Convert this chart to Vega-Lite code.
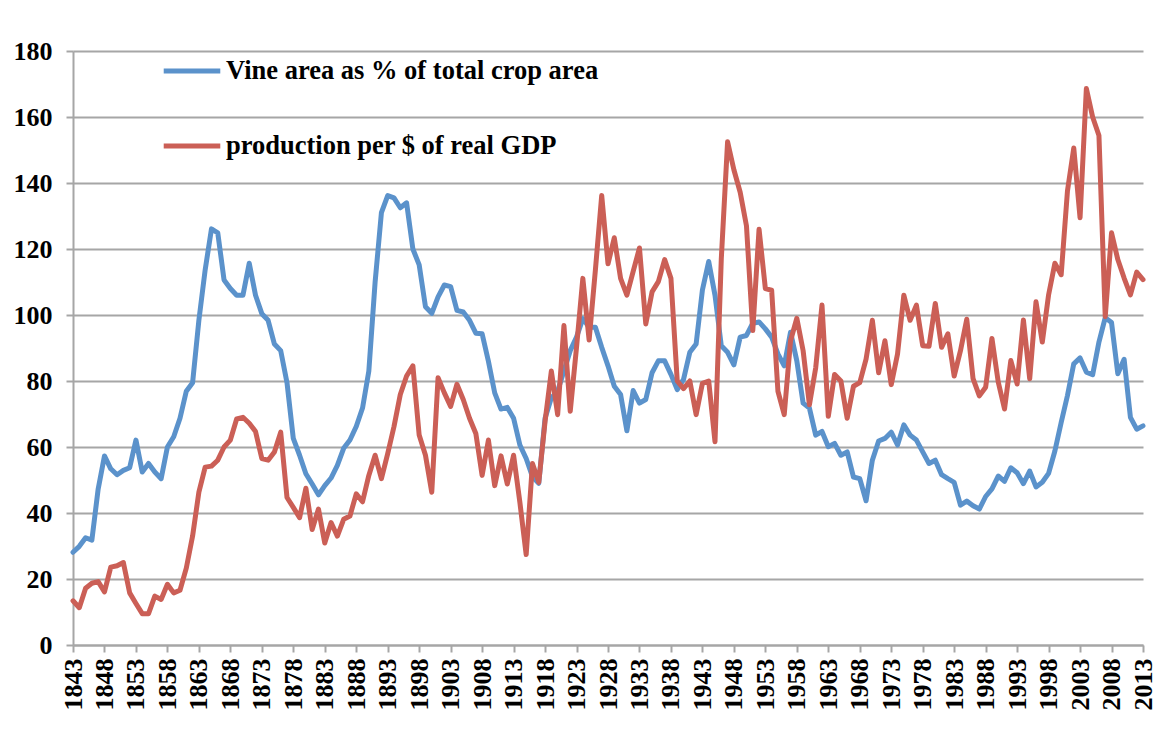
{
  "$schema": "https://vega.github.io/schema/vega-lite/v6.json",
  "width": 1070,
  "height": 594,
  "autosize": {"type": "none"},
  "padding": {"left": 73, "top": 51, "right": 13, "bottom": 95},
  "background": "white",
  "config": {
    "view": {"stroke": null},
    "font": "Liberation Serif"
  },
  "data": {
    "values": [
      {"year":1843,"vine":28.1,"prod":13.4},{"year":1844,"vine":29.9,"prod":11.3},{"year":1845,"vine":32.5,"prod":17.2},{"year":1846,"vine":31.8,"prod":18.7},{"year":1847,"vine":47.3,"prod":19.2},
      {"year":1848,"vine":57.3,"prod":16.1},{"year":1849,"vine":53.4,"prod":23.6},{"year":1850,"vine":51.6,"prod":24},{"year":1851,"vine":52.9,"prod":25},{"year":1852,"vine":53.7,"prod":15.8},
      {"year":1853,"vine":62.1,"prod":12.6},{"year":1854,"vine":52.4,"prod":9.5},{"year":1855,"vine":55,"prod":9.5},{"year":1856,"vine":52.4,"prod":14.8},{"year":1857,"vine":50.4,"prod":13.8},
      {"year":1858,"vine":60,"prod":18.4},{"year":1859,"vine":63.1,"prod":15.8},{"year":1860,"vine":68.7,"prod":16.6},{"year":1861,"vine":76.9,"prod":23.3},{"year":1862,"vine":79.5,"prod":33},
      {"year":1863,"vine":98.4,"prod":46.3},{"year":1864,"vine":113.7,"prod":53.9},{"year":1865,"vine":126.1,"prod":54.2},{"year":1866,"vine":124.9,"prod":56},{"year":1867,"vine":110.6,"prod":60},
      {"year":1868,"vine":108,"prod":62.1},{"year":1869,"vine":106,"prod":68.5},{"year":1870,"vine":106,"prod":69},{"year":1871,"vine":115.7,"prod":67.2},{"year":1872,"vine":106,"prod":64.7},
      {"year":1873,"vine":100.4,"prod":56.5},{"year":1874,"vine":98.4,"prod":56},{"year":1875,"vine":91.2,"prod":58.5},{"year":1876,"vine":89.2,"prod":64.5},{"year":1877,"vine":79.5,"prod":44.7},
      {"year":1878,"vine":62.6,"prod":41.7},{"year":1879,"vine":57.5,"prod":38.6},{"year":1880,"vine":51.9,"prod":47.5},{"year":1881,"vine":48.8,"prod":35},{"year":1882,"vine":45.5,"prod":41.2},
      {"year":1883,"vine":48.3,"prod":30.9},{"year":1884,"vine":50.6,"prod":37.1},{"year":1885,"vine":54.4,"prod":33},{"year":1886,"vine":59.6,"prod":38.1},{"year":1887,"vine":62.1,"prod":39.1},
      {"year":1888,"vine":66.2,"prod":45.8},{"year":1889,"vine":71.8,"prod":43.4},{"year":1890,"vine":83,"prod":51.4},{"year":1891,"vine":110,"prod":57.5},{"year":1892,"vine":131,"prod":50.4},
      {"year":1893,"vine":136.2,"prod":58},{"year":1894,"vine":135.5,"prod":66.2},{"year":1895,"vine":132.5,"prod":75.9},{"year":1896,"vine":134,"prod":81.5},{"year":1897,"vine":120,"prod":84.6},
      {"year":1898,"vine":115.2,"prod":63.6},{"year":1899,"vine":102.5,"prod":57.5},{"year":1900,"vine":100.5,"prod":46.3},{"year":1901,"vine":105.5,"prod":81},{"year":1902,"vine":109.1,"prod":76.4},
      {"year":1903,"vine":108.6,"prod":72.3},{"year":1904,"vine":101.4,"prod":79},{"year":1905,"vine":100.9,"prod":74.4},{"year":1906,"vine":98.4,"prod":68.7},{"year":1907,"vine":94.5,"prod":64.1},
      {"year":1908,"vine":94.3,"prod":51.4},{"year":1909,"vine":86,"prod":62.1},{"year":1910,"vine":76.4,"prod":48.3},{"year":1911,"vine":71.5,"prod":57.3},{"year":1912,"vine":72,"prod":48.8},
      {"year":1913,"vine":68.7,"prod":57.5},{"year":1914,"vine":60.6,"prod":43.2},{"year":1915,"vine":56.5,"prod":27.4},{"year":1916,"vine":51,"prod":55},{"year":1917,"vine":49,"prod":49.3},
      {"year":1918,"vine":68.7,"prod":67.7},{"year":1919,"vine":74.9,"prod":83},{"year":1920,"vine":77,"prod":69.8},{"year":1921,"vine":83,"prod":96.8},{"year":1922,"vine":89.2,"prod":70.8},
      {"year":1923,"vine":93.3,"prod":90.2},{"year":1924,"vine":98.9,"prod":111.1},{"year":1925,"vine":96.3,"prod":92.4},{"year":1926,"vine":96.3,"prod":113.7},{"year":1927,"vine":90.2,"prod":136.2},
      {"year":1928,"vine":84.6,"prod":115.5},{"year":1929,"vine":78.4,"prod":123.4},{"year":1930,"vine":75.9,"prod":111.1},{"year":1931,"vine":64.9,"prod":106},{"year":1932,"vine":77.1,"prod":113.2},
      {"year":1933,"vine":73.3,"prod":120.3},{"year":1934,"vine":74.4,"prod":97.3},{"year":1935,"vine":82.5,"prod":107},{"year":1936,"vine":86.1,"prod":110.1},{"year":1937,"vine":86.1,"prod":116.8},
      {"year":1938,"vine":82,"prod":111.1},{"year":1939,"vine":77.4,"prod":80},{"year":1940,"vine":80.5,"prod":77.7},{"year":1941,"vine":88.7,"prod":80},{"year":1942,"vine":91.2,"prod":69.8},
      {"year":1943,"vine":107.6,"prod":79.3},{"year":1944,"vine":116.2,"prod":80},{"year":1945,"vine":106,"prod":61.6},{"year":1946,"vine":90.7,"prod":117},{"year":1947,"vine":88.7,"prod":152.5},
      {"year":1948,"vine":84.9,"prod":144},{"year":1949,"vine":93.3,"prod":137.2},{"year":1950,"vine":93.8,"prod":127},{"year":1951,"vine":97.5,"prod":95.3},{"year":1952,"vine":97.9,"prod":126},
      {"year":1953,"vine":95.8,"prod":108},{"year":1954,"vine":93.3,"prod":107.5},{"year":1955,"vine":88.2,"prod":76.9},{"year":1956,"vine":84.6,"prod":69.8},{"year":1957,"vine":94.8,"prod":92.2},
      {"year":1958,"vine":86.1,"prod":99},{"year":1959,"vine":73.3,"prod":89.2},{"year":1960,"vine":71.8,"prod":72.8},{"year":1961,"vine":63.6,"prod":84},{"year":1962,"vine":64.7,"prod":103},
      {"year":1963,"vine":60.1,"prod":69.3},{"year":1964,"vine":61.1,"prod":82},{"year":1965,"vine":57.5,"prod":80},{"year":1966,"vine":58.5,"prod":68.7},{"year":1967,"vine":50.9,"prod":78.4},
      {"year":1968,"vine":50.4,"prod":79.5},{"year":1969,"vine":43.7,"prod":86.6},{"year":1970,"vine":56,"prod":98.4},{"year":1971,"vine":61.8,"prod":82.5},{"year":1972,"vine":62.6,"prod":92.2},
      {"year":1973,"vine":64.5,"prod":78.9},{"year":1974,"vine":60.6,"prod":88.2},{"year":1975,"vine":66.7,"prod":106},{"year":1976,"vine":63.6,"prod":98.4},{"year":1977,"vine":62.1,"prod":103},
      {"year":1978,"vine":58.5,"prod":90.7},{"year":1979,"vine":55,"prod":90.5},{"year":1980,"vine":56,"prod":103.5},{"year":1981,"vine":51.6,"prod":90.2},{"year":1982,"vine":50.4,"prod":94.3},
      {"year":1983,"vine":49.3,"prod":81.5},{"year":1984,"vine":42.4,"prod":89.2},{"year":1985,"vine":43.6,"prod":98.7},{"year":1986,"vine":42.2,"prod":80.7},{"year":1987,"vine":41.2,"prod":75.5},
      {"year":1988,"vine":45,"prod":78.1},{"year":1989,"vine":47.3,"prod":92.9},{"year":1990,"vine":51.2,"prod":79.7},{"year":1991,"vine":49.6,"prod":71.5},{"year":1992,"vine":53.7,"prod":86.2},
      {"year":1993,"vine":52.2,"prod":79.1},{"year":1994,"vine":48.9,"prod":98.5},{"year":1995,"vine":52.7,"prod":80.7},{"year":1996,"vine":47.9,"prod":104},{"year":1997,"vine":49.3,"prod":91.8},
      {"year":1998,"vine":52,"prod":106.1},{"year":1999,"vine":58.8,"prod":115.7},{"year":2000,"vine":67.4,"prod":112.2},{"year":2001,"vine":75.6,"prod":137.6},{"year":2002,"vine":85.2,"prod":150.6},
      {"year":2003,"vine":87,"prod":129.5},{"year":2004,"vine":82.7,"prod":168.6},{"year":2005,"vine":81.9,"prod":160},{"year":2006,"vine":91.8,"prod":154.4},{"year":2007,"vine":99.2,"prod":99.5},
      {"year":2008,"vine":97.7,"prod":124.9},{"year":2009,"vine":82.2,"prod":116.8},{"year":2010,"vine":86.6,"prod":111.2},{"year":2011,"vine":69,"prod":106.1},{"year":2012,"vine":65.4,"prod":113},
      {"year":2013,"vine":66.4,"prod":110.7}
    ]
  },
  "transform": [
    {"fold": ["vine", "prod"], "as": ["series", "value"]}
  ],
  "mark": {"type": "line", "strokeWidth": 5, "strokeJoin": "round", "strokeCap": "round"},
  "encoding": {
    "x": {
      "field": "year",
      "type": "quantitative",
      "scale": {"domain": [1843, 2013], "nice": false, "zero": false},
      "axis": {
        "title": null,
        "values": [1843,1848,1853,1858,1863,1868,1873,1878,1883,1888,1893,1898,1903,1908,1913,1918,1923,1928,1933,1938,1943,1948,1953,1958,1963,1968,1973,1978,1983,1988,1993,1998,2003,2008,2013],
        "format": "d",
        "labelAngle": 270,
        "labelAlign": "right",
        "labelBaseline": "middle",
        "labelFont": "Liberation Serif",
        "labelFontWeight": "bold",
        "labelFontSize": 26,
        "labelColor": "black",
        "labelPadding": 6,
        "labelOverlap": false,
        "labelFlush": false,
        "grid": false,
        "domainColor": "#a6a6a6",
        "domainWidth": 2,
        "tickColor": "#a6a6a6",
        "tickWidth": 2,
        "tickSize": 7
      }
    },
    "y": {
      "field": "value",
      "type": "quantitative",
      "scale": {"domain": [0, 180], "nice": false},
      "axis": {
        "title": null,
        "values": [0,20,40,60,80,100,120,140,160,180],
        "labelFont": "Liberation Serif",
        "labelFontWeight": "bold",
        "labelFontSize": 26,
        "labelColor": "black",
        "labelPadding": 14,
        "grid": true,
        "gridColor": "#a6a6a6",
        "gridWidth": 2,
        "domainColor": "#a6a6a6",
        "domainWidth": 2,
        "tickColor": "#a6a6a6",
        "tickWidth": 2,
        "tickSize": 7
      }
    },
    "color": {
      "field": "series",
      "type": "nominal",
      "sort": ["vine", "prod"],
      "scale": {"domain": ["vine", "prod"], "range": ["#5B92CB", "#CB5F56"]},
      "legend": {
        "title": null,
        "orient": "none",
        "legendX": 88,
        "legendY": -11,
        "padding": 0,
        "symbolType": "stroke",
        "symbolSize": 3200,
        "symbolStrokeWidth": 5,
        "labelFont": "Liberation Serif",
        "labelFontWeight": "bold",
        "labelFontSize": 26.5,
        "labelColor": "black",
        "labelOffset": 3,
        "labelLimit": 0,
        "rowPadding": 30,
        "labelExpr": "datum.label == 'vine' ? 'Vine area as % of total crop area' : 'production per $ of real GDP'"
      }
    }
  }
}
